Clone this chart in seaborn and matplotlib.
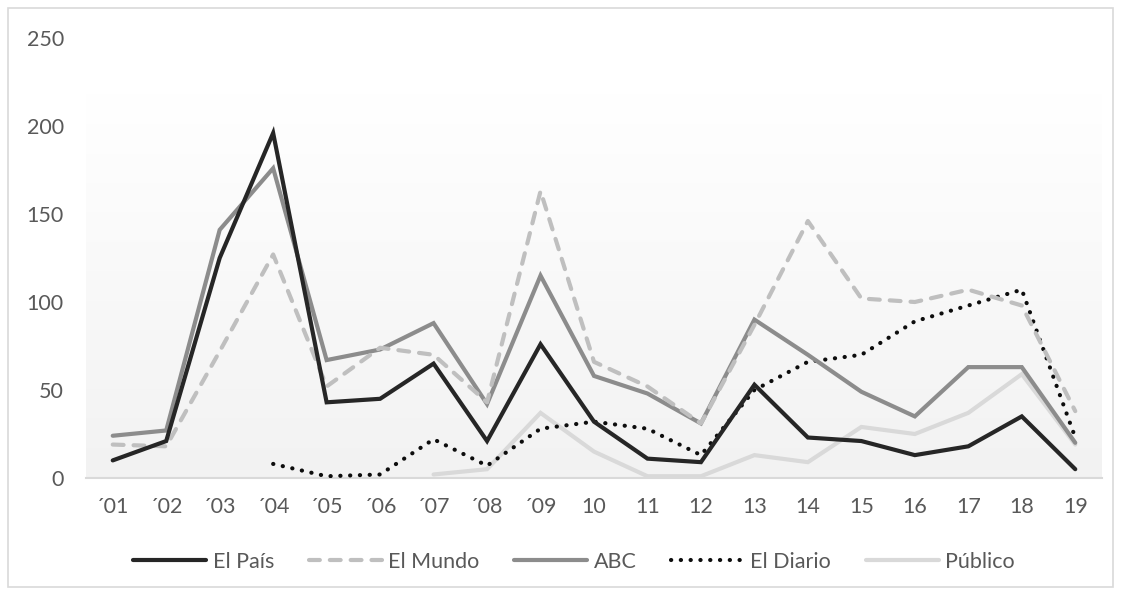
import numpy as np
import pandas as pd
import matplotlib
matplotlib.use("Agg")
import matplotlib.pyplot as plt
from matplotlib.lines import Line2D
from matplotlib.patches import Rectangle
import seaborn as sns

years = ["´01", "´02", "´03", "´04", "´05", "´06", "´07", "´08", "´09",
         "10", "11", "12", "13", "14", "15", "16", "17", "18", "19"]
el_pais = [10, 21, 125, 196, 43, 45, 65, 21, 76, 32, 11, 9, 53, 23, 21, 13, 18, 35, 5]
el_mundo = [19, 18, 72, 127, 52, 74, 70, 43, 163, 66, 52, 31, 87, 146, 102, 100, 107, 98, 38]
abc = [24, 27, 141, 176, 67, 73, 88, 42, 115, 58, 48, 31, 90, 70, 49, 35, 63, 63, 20]
el_diario = [np.nan, np.nan, np.nan, 8, 1, 2, 22, 7, 28, 32, 28, 13, 50, 66, 70, 89, 98, 107, 23]
publico = [np.nan] * 6 + [2, 5, 37, 15, 1, 1, 13, 9, 29, 25, 37, 59, 19]
y_ticks = [0, 50, 100, 150, 200, 250]

series = ["El País", "El Mundo", "ABC", "El Diario", "Público"]
values = [el_pais, el_mundo, abc, el_diario, publico]

sns.set_theme(style="white")
plt.rcParams["font.family"] = ["Lato", "DejaVu Sans"]

fig = plt.figure(figsize=(11.21, 5.96), dpi=100)
ax = fig.add_axes([86 / 1121, 118 / 596, (1102 - 86) / 1121, (558 - 118) / 596])

# outer chart border
fig.patches.append(Rectangle((8 / 1121, 9 / 596), (1113 - 8) / 1121, (588 - 9) / 596,
                             transform=fig.transFigure, fill=False,
                             edgecolor="#d9d9d9", linewidth=1.2))

x = np.arange(len(years))
n = len(years)

# gradient plot-area fill
grad = np.linspace(0, 1, 256).reshape(-1, 1)
cmap = matplotlib.colors.LinearSegmentedColormap.from_list("g", ["#f2f2f2", "#ffffff"])
ax.imshow(grad, extent=(-0.5, n - 0.5, 0, 218), origin="lower", aspect="auto",
          cmap=cmap, zorder=0, interpolation="bicubic")

styles = {
    "El País": dict(color="#262626", linestyle="-"),
    "El Mundo": dict(color="#bfbfbf", linestyle=(0, (2.6, 2.4))),
    "ABC": dict(color="#8c8c8c", linestyle="-"),
    "El Diario": dict(color="#0d0d0d", linestyle=(0, (0.05, 2.3))),
    "Público": dict(color="#d9d9d9", linestyle="-"),
}
order = ["Público", "El Diario", "ABC", "El Mundo", "El País"]
lw = 3.0
for name in order:
    vals = values[series.index(name)]
    df = pd.DataFrame({"x": x, "y": vals}).dropna()
    st = styles[name]
    sns.lineplot(data=df, x="x", y="y", ax=ax, color=st["color"],
                 linestyle=st["linestyle"], linewidth=lw,
                 solid_capstyle="round", dash_capstyle="round",
                 solid_joinstyle="miter", zorder=3, legend=False)

fs = 15.5
ax.set_xlim(-0.5, n - 0.5)
ax.set_ylim(0, 250)
ax.set_xticks(x)
ax.set_xticklabels(years)
ax.set_yticks(y_ticks)
ax.set_yticklabels([str(t) for t in y_ticks])
ax.set_xlabel("")
ax.set_ylabel("")
for s in ["top", "right", "left"]:
    ax.spines[s].set_visible(False)
ax.spines["bottom"].set_color("#d9d9d9")
ax.spines["bottom"].set_linewidth(1.5)
ax.spines["bottom"].set_zorder(2)
ax.tick_params(axis="both", length=0, labelsize=fs, labelcolor="#595959")
ax.tick_params(axis="y", pad=16)
ax.tick_params(axis="x", pad=14)
ax.grid(False)

handles = []
for name in series:
    st = styles[name]
    handles.append(Line2D([0], [0], color=st["color"], linestyle=st["linestyle"],
                          linewidth=lw, solid_capstyle="round", dash_capstyle="round"))
leg = fig.legend(handles, series, loc="center", bbox_to_anchor=(574 / 1121, 1 - 562 / 596),
                 ncol=5, frameon=False, fontsize=fs, handlelength=3.4,
                 handletextpad=0.3, columnspacing=1.6, labelcolor="#595959")

fig.savefig("out.png", dpi=100)
